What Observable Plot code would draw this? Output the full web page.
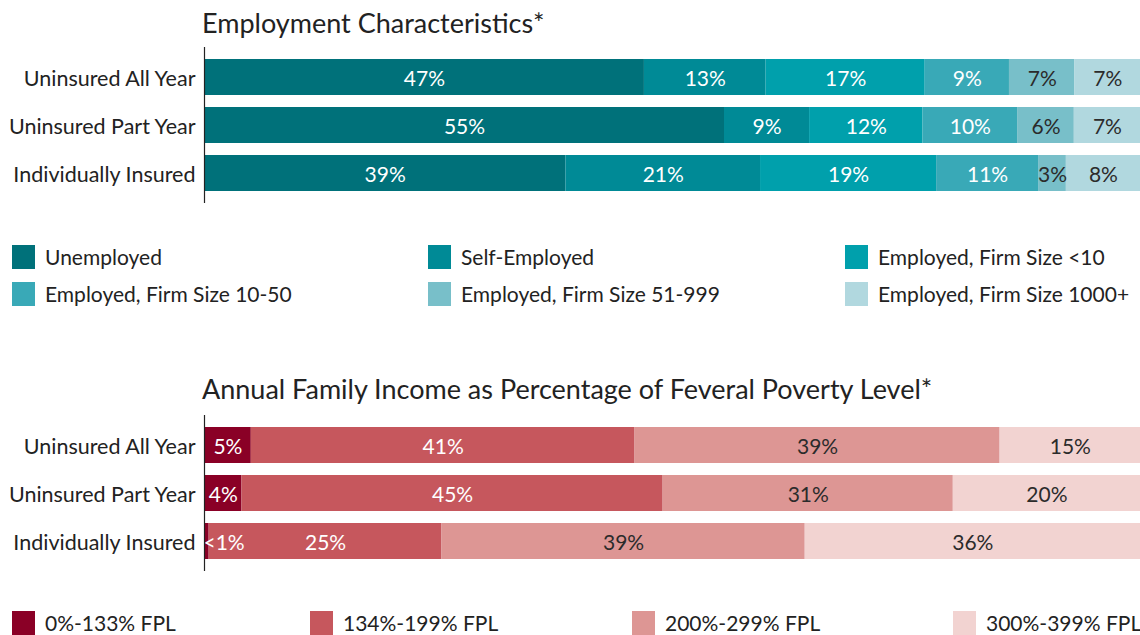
<!DOCTYPE html>
<html>
<head>
<meta charset="utf-8">
<script src="https://cdn.jsdelivr.net/npm/d3@7"></script>
<script src="https://cdn.jsdelivr.net/npm/@observablehq/plot@0.6"></script>
<style>
  html, body { margin: 0; padding: 0; background: #fff; }
  #root { position: relative; width: 1140px; height: 635px; font-family: Lato, "Noto Sans", sans-serif; font-weight: 400; color: #222; overflow: hidden; }
  .title { position: absolute; left: 202px; font-size: 27px; line-height: 30px; white-space: nowrap; color: #222; }
  .chart { position: absolute; left: 0; }
  .leg { position: absolute; display: flex; align-items: center; font-size: 21px; white-space: nowrap; color: #222; }
  .leg .sw { width: 23px; height: 24px; margin-right: 10px; flex: none; }
</style>
</head>
<body>
<div id="root"></div>
<script>
// ---------- data ----------
const groups = ["Uninsured All Year", "Uninsured Part Year", "Individually Insured"];

const empCategories = ["Unemployed", "Self-Employed", "Employed, Firm Size <10",
  "Employed, Firm Size 10-50", "Employed, Firm Size 51-999", "Employed, Firm Size 1000+"];
const empColors = ["#00717a", "#008a96", "#00a0ac", "#39a9b7", "#78bfc9", "#b1d8df"];
const empUninsuredAllYear = [47, 13, 17, 9, 7, 7];
const empUninsuredPartYear = [55, 9, 12, 10, 6, 7];
const empIndividuallyInsured = [39, 21, 19, 11, 3, 8];
const empWhiteLabelCats = empCategories.slice(0, 4);

const incCategories = ["0%-133% FPL", "134%-199% FPL", "200%-299% FPL", "300%-399% FPL"];
const incColors = ["#8a0026", "#c6575d", "#dd9694", "#f2d3d1"];
const incUninsuredAllYear = [5, 41, 39, 15];
const incUninsuredPartYear = [4, 45, 31, 20];
const incIndividuallyInsured = [0.5, 25, 39, 36]; // 0.5 shown as "<1%"
const incWhiteLabelCats = incCategories.slice(0, 2);

const empTitle = "Employment Characteristics*";
const incTitle = "Annual Family Income as Percentage of Feveral Poverty Level*";

// ---------- build tables ----------
function table(cats, rows) {
  const out = [];
  rows.forEach((vals, gi) => vals.forEach((v, ci) => out.push({group: groups[gi], cat: cats[ci], value: v})));
  return out;
}
const empData = table(empCategories, [empUninsuredAllYear, empUninsuredPartYear, empIndividuallyInsured]);
const incData = table(incCategories, [incUninsuredAllYear, incUninsuredPartYear, incIndividuallyInsured]);

const fmt = v => v < 1 ? "<1%" : `${v}%`;
const FONT = "Lato, 'Noto Sans', sans-serif";

function chart(data, cats, colors, whiteCats, height, marginBottom) {
  const base = {x: "value", y: "group", offset: "normalize"};
  return Plot.plot({
    width: 1140,
    height,
    marginLeft: 204,
    marginRight: 0,
    marginTop: 2,
    marginBottom,
    style: {fontFamily: FONT, fontSize: "21.5px", fontWeight: 400, color: "#222", background: "transparent"},
    x: {domain: [0, 1], axis: null},
    y: {domain: groups, padding: 0.25, label: null, tickSize: 0, tickPadding: 9},
    color: {domain: cats, range: colors, legend: false},
    marks: [
      Plot.barX(data, Plot.stackX({...base, fill: "cat"})),
      Plot.text(data, Plot.stackX({...base,
        text: d => (d.value >= 1 && whiteCats.includes(d.cat)) ? fmt(d.value) : null,
        fill: "white", fontSize: 21, dy: 2})),
      Plot.text(data, Plot.stackX({...base,
        text: d => (d.value >= 1 && !whiteCats.includes(d.cat)) ? fmt(d.value) : null,
        fill: "#2b2b2b", fontSize: 21, dy: 2})),
      Plot.text(data, Plot.stackX1({...base,
        text: d => d.value < 1 ? fmt(d.value) : null,
        fill: "white", fontSize: 21, dy: 2, textAnchor: "start", dx: -1})),
      Plot.axisY({tickSize: 0, tickPadding: 9, label: null, dy: 2}),
      Plot.ruleX([0], {stroke: "#222", strokeWidth: 1.2})
    ]
  });
}

const root = document.getElementById("root");
function addTitle(text, top) {
  const d = document.createElement("div");
  d.className = "title"; d.style.top = top + "px"; d.textContent = text;
  root.appendChild(d);
}
function addChart(svg, top) {
  svg.classList.add("chart");
  svg.style.top = top + "px";
  root.appendChild(svg);
}
function addLegend(cats, colors, positions) {
  cats.forEach((c, i) => {
    const [left, top] = positions[i];
    const d = document.createElement("div");
    d.className = "leg"; d.style.left = left + "px"; d.style.top = top + "px";
    const sw = document.createElement("span");
    sw.className = "sw"; sw.style.background = colors[i];
    const t = document.createElement("span"); t.textContent = c;
    d.appendChild(sw); d.appendChild(t);
    root.appendChild(d);
  });
}

addTitle(empTitle, 8);
addChart(chart(empData, empCategories, empColors, empWhiteLabelCats, 163, 5), 45);
addLegend(empCategories, empColors, [[12, 244], [428, 244], [845, 244], [12, 281], [428, 281], [845, 281]]);

addTitle(incTitle, 374);
addChart(chart(incData, incCategories, incColors, incWhiteLabelCats, 164, 6), 413);
addLegend(incCategories, incColors, [[12, 610], [310, 610], [632, 610], [953, 610]]);
</script>
</body>
</html>
